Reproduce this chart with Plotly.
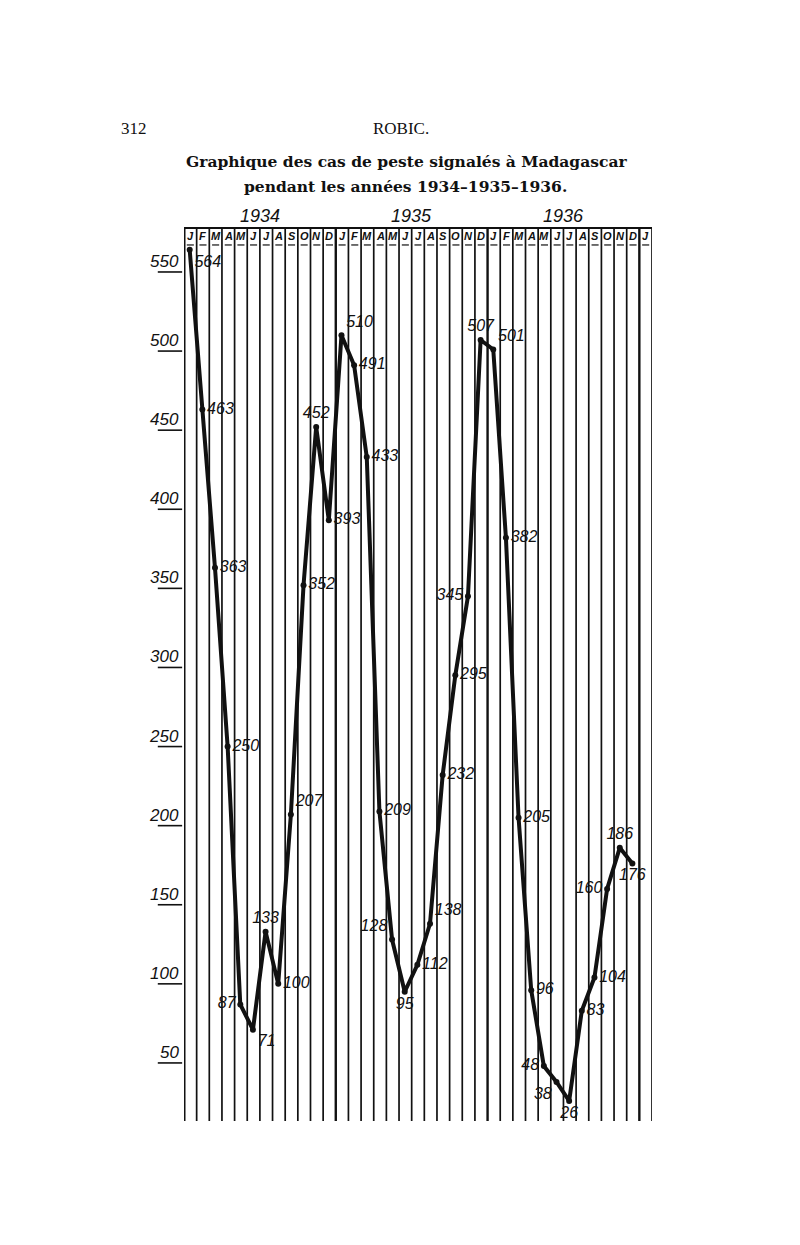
import plotly.graph_objects as go
import numpy as np

# ---- data ----
month_letters = ["J", "F", "M", "A", "M", "J", "J", "A", "S", "O", "N", "D"]
header_letters = month_letters * 3 + ["J"]
years = ["1934", "1935", "1936"]
cases_1934 = [564, 463, 363, 250, 87, 71, 133, 100, 207, 352, 452, 393]
cases_1935 = [510, 491, 433, 209, 128, 95, 112, 138, 232, 295, 345, 507]
cases_1936 = [501, 382, 205, 96, 48, 38, 26, 83, 104, 160, 186, 176]
y_ticks = [50, 100, 150, 200, 250, 300, 350, 400, 450, 500, 550]

# label placement for each point (style only)
label_pos = [
    "bottom right", "middle right", "middle right", "middle right", "middle left", "bottom right",
    "top center", "middle right", "top right", "middle right", "top center", "middle right",
    "top right", "middle right", "middle right", "middle right", "top left", "bottom center",
    "middle right", "top right", "middle right", "middle right", "middle left", "top center",
    "top right", "middle right", "middle right", "middle right", "middle left", "bottom left",
    "bottom center", "middle right", "middle right", "middle left", "top center", "bottom center",
]

cases = cases_1934 + cases_1935 + cases_1936
x = np.arange(len(cases))
n_cols = len(header_letters)
off = 0.45  # columns are [k-off, k+1-off]

hand_font = "Liberation Sans, Arial, sans-serif"

fig = go.Figure()
fig.add_trace(go.Scatter(
    x=x, y=cases, mode="lines+markers+text",
    line=dict(color="#111", width=4),
    marker=dict(color="#111", size=6),
    text=[str(v) for v in cases], textposition=label_pos,
    textfont=dict(family=hand_font, size=16, color="#111", style="italic"),
    cliponaxis=False, hoverinfo="skip",
))

shapes = []
# vertical column lines
for k in range(n_cols + 1):
    w = 1.7
    if k == 0:
        w = 3
    elif k % 12 == 0:
        w = 2.4
    shapes.append(dict(type="line", xref="x", yref="paper", x0=k - off, x1=k - off,
                       y0=0, y1=1, line=dict(color="#111", width=w)))
# top border
shapes.append(dict(type="line", xref="x", yref="paper", x0=-off, x1=n_cols - off,
                   y0=1, y1=1, line=dict(color="#111", width=2)))
# header letter underlines
for k in range(n_cols):
    shapes.append(dict(type="line", xref="x", yref="paper", x0=k - off + 0.22, x1=k - off + 0.78,
                       y0=0.981, y1=0.981, line=dict(color="#111", width=1.2)))
# y tick underlines
for v in y_ticks:
    shapes.append(dict(type="line", xref="paper", yref="y", x0=-0.056, x1=-0.004,
                       y0=v, y1=v, line=dict(color="#111", width=1.6)))

annotations = []
for k, letter in enumerate(header_letters):
    annotations.append(dict(x=k - off + 0.5, y=0.9905, xref="x", yref="paper", text=letter,
                            showarrow=False, xanchor="center", yanchor="middle",
                            font=dict(family=hand_font, size=11, color="#111",
                                      style="italic", weight="bold")))
for j, yr in enumerate(years):
    annotations.append(dict(x=j * 12 + 5.5 - off + 0.5, y=1.0, xref="x", yref="paper", text=yr,
                            showarrow=False, xanchor="center", yanchor="bottom", yshift=0,
                            font=dict(family=hand_font, size=18, color="#111", style="italic")))
for v in y_ticks:
    annotations.append(dict(x=-0.006, y=v, xref="paper", yref="y", text=str(v), showarrow=False,
                            xanchor="right", yanchor="bottom", yshift=-1,
                            font=dict(family=hand_font, size=17, color="#111", style="italic")))

# the page body adds an 8px offset; margins compensate for it
W, H = 800, 1245
pl, pr, pt, pb = 176, 156, 220, 132

fig.update_layout(
    width=W, height=H,
    paper_bgcolor="white", plot_bgcolor="white",
    margin=dict(l=pl, r=pr, t=pt, b=pb),
    showlegend=False,
    xaxis=dict(range=[-off, n_cols - off], showgrid=False, zeroline=False,
               showticklabels=False, ticks="", showline=False),
    yaxis=dict(range=[13.3, 577.8], showgrid=False, zeroline=False,
               showticklabels=False, ticks="", showline=False),
    shapes=shapes,
    annotations=annotations,
)

def px(xp):
    return (xp - 8 - pl) / (W - pl - pr)
def py(yp):
    return (H - pb - (yp - 8)) / (H - pt - pb)

serif = "Liberation Serif, DejaVu Serif, serif"
fig.add_annotation(x=px(134), y=py(129), xref="paper", yref="paper", text="312", showarrow=False,
                   xanchor="center", yanchor="middle",
                   font=dict(family=serif, size=17, color="#111"))
fig.add_annotation(x=px(401), y=py(129), xref="paper", yref="paper", text="ROBIC.", showarrow=False,
                   xanchor="center", yanchor="middle",
                   font=dict(family=serif, size=17, color="#111"))
fig.add_annotation(x=px(406), y=py(162), xref="paper", yref="paper",
                   text="Graphique des cas de peste signalés à Madagascar", showarrow=False,
                   xanchor="center", yanchor="middle",
                   font=dict(family="DejaVu Serif", size=15.5, color="#111", weight="bold"))
fig.add_annotation(x=px(405), y=py(187), xref="paper", yref="paper",
                   text="pendant les années 1934–1935–1936.", showarrow=False,
                   xanchor="center", yanchor="middle",
                   font=dict(family="DejaVu Serif", size=15.5, color="#111", weight="bold"))

fig.write_html("out.html")
